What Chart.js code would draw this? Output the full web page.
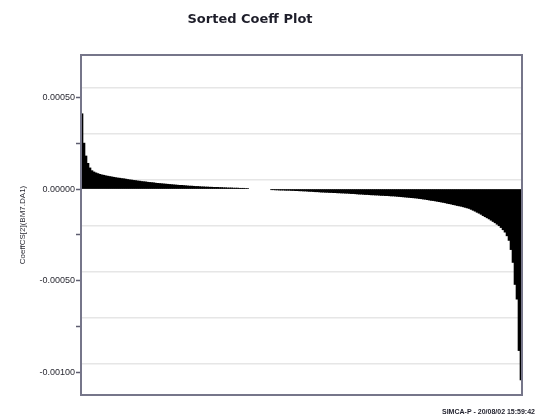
<!DOCTYPE html>
<html>
<head>
<meta charset="utf-8">
<script src="https://cdn.jsdelivr.net/npm/chart.js@4.4.1/dist/chart.umd.min.js"></script>
<style>
    html, body { margin: 0; padding: 0; background: #ffffff; }
    #wrap { width: 557px; height: 416px; position: relative; }
</style>
</head>
<body>
<div id="wrap"><canvas id="coeff"></canvas></div>
<script>
/*
        Sorted coefficient plot, CoeffCS[2](BM7.DA1), drawn as a bar per variable.
*/

const positiveCoeffs = [
    0.00041, 0.00025, 0.00018, 0.00014, 0.000115, 0.0001, 0.000093, 0.000088, 0.000084, 0.00008,
    0.000077, 0.000075, 0.000072, 0.00007, 0.000068, 0.000066, 0.000064, 0.000062, 0.00006, 0.000059,
    0.000057, 0.000056, 0.000054, 0.000052, 0.00005, 0.000049, 0.000047, 0.000046, 0.000044, 0.000043,
    0.000041, 0.00004, 0.000039, 0.000037, 0.000036, 0.000035, 0.000034, 0.000032, 0.000031, 0.00003,
    0.000029, 0.000028, 0.000027, 0.000026, 0.000025, 0.000024, 0.000023, 0.000022, 0.000021, 0.00002,
    0.00002, 0.000019, 0.000018, 0.000017, 0.000016, 0.000016, 0.000015, 0.000014, 0.000014, 0.000013,
    0.000012, 0.000012, 0.000011, 0.000011, 0.00001, 0.00001, 0.000009, 0.000009, 0.000009, 0.000008,
    0.000008, 0.000007, 0.000007, 0.000006, 0.000006, 0.000006, 0.000005, 0.000005, 0.000005, 0.000004,
    0.000004, 0.000004, 0.000003, 0.000003
];

// variables too close to zero to show in the plot
const hiddenCoeffs = [null, null, null, null, null, null, null, null, null, null, null];

const negativeCoeffs = [
    -0.000004, -0.000004, -0.000005, -0.000005, -0.000006, -0.000006, -0.000006, -0.000007, -0.000007, -0.000007,
    -0.000008, -0.000008, -0.000009, -0.000009, -0.00001, -0.00001, -0.000011, -0.000011, -0.000012, -0.000013,
    -0.000013, -0.000014, -0.000015, -0.000015, -0.000016, -0.000017, -0.000017, -0.000018, -0.000018, -0.000019,
    -0.000019, -0.00002, -0.00002, -0.000021, -0.000021, -0.000022, -0.000022, -0.000023, -0.000023, -0.000024,
    -0.000025, -0.000025, -0.000026, -0.000027, -0.000028, -0.000028, -0.000029, -0.00003, -0.00003, -0.000031,
    -0.000032, -0.000032, -0.000033, -0.000033, -0.000034, -0.000035, -0.000035, -0.000036, -0.000036, -0.000037,
    -0.000038, -0.000038, -0.000039, -0.00004, -0.000041, -0.000042, -0.000043, -0.000044, -0.000045, -0.000046,
    -0.000047, -0.000048, -0.000049, -0.00005, -0.000052, -0.000053, -0.000055, -0.000056, -0.000058, -0.00006,
    -0.000062, -0.000063, -0.000065, -0.000067, -0.000069, -0.000071, -0.000073, -0.000075, -0.000078, -0.00008,
    -0.000082, -0.000085, -0.000087, -0.00009, -0.000092, -0.000094, -0.000097, -0.0001, -0.000103, -0.000106,
    -0.000111, -0.000116, -0.000121, -0.000127, -0.000132, -0.000138, -0.000145, -0.000151, -0.000157, -0.000163,
    -0.00017, -0.000177, -0.000184, -0.000192, -0.0002, -0.00021, -0.000222, -0.000235, -0.000255, -0.00028,
    -0.00033, -0.0004, -0.00052, -0.0006, -0.00088, -0.00104
];

const coeffValues = positiveCoeffs.concat(hiddenCoeffs, negativeCoeffs);
const varIndex = coeffValues.map((v, i) => i + 1);

const yMin = -0.001122;
const yMax = 0.00073;
const yTickStep = 0.00025;   // minor tick marks, labels every second one
const yLabelStep = 0.0005;
const gridValues = [0.00055, 0.0003, 0.00005, -0.0002, -0.00045, -0.0007, -0.00095];

const titleText = "Sorted Coeff Plot";
const yAxisText = "CoeffCS[2](BM7.DA1)";
const footerText = "SIMCA-P - 20/08/02 15:59:42";

// Frame, title and footer stamp
const framePlugin = {
    id: "frame",
    afterDraw(chart) {
        const ctx = chart.ctx;
        const a = chart.chartArea;

        ctx.save();
        ctx.strokeStyle = "#76768a";
        ctx.lineWidth = 2;
        ctx.strokeRect(a.left, a.top, a.right - a.left, a.bottom - a.top);

        ctx.fillStyle = "#1e1e2a";
        ctx.font = "bold 13px 'DejaVu Sans'";
        ctx.textAlign = "center";
        ctx.textBaseline = "middle";
        ctx.fillText(titleText, 250, 20);

        ctx.font = "bold 7px 'Liberation Sans'";
        ctx.textAlign = "left";
        ctx.fillText(footerText, 442, 412);
        ctx.restore();
    }
};

const ctx = document.getElementById("coeff").getContext("2d");

new Chart(ctx, {
    type: "bar",
    plugins: [framePlugin],
    data: {
        labels: varIndex,
        datasets: [
            {
                data: coeffValues,
                backgroundColor: "#000000",
                borderWidth: 0,
                barPercentage: 1,
                categoryPercentage: 1,
            },
        ],
    },
    options: {
        responsive: true,
        maintainAspectRatio: false,
        animation: false,
        layout: { padding: { left: 0, right: 35, top: 55, bottom: 21 } },
        plugins: {
            legend: { display: false },
            tooltip: { enabled: false },
        },
        scales: {
            x: { display: false },
            y: {
                position: "left",
                min: yMin,
                max: yMax,
                afterFit: (scale) => { scale.width = 81; },
                border: { display: false },
                grid: {
                    drawOnChartArea: false,
                    drawTicks: true,
                    tickLength: 5,
                    tickColor: "#5e5e70",
                    tickWidth: 1.5,
                },
                ticks: {
                    stepSize: yTickStep,
                    includeBounds: false,
                    padding: 1,
                    color: "#2a2a33",
                    font: { family: "'Liberation Sans'", size: 9 },
                    callback: (v) => {
                        const r = v / yLabelStep;
                        return Math.abs(r - Math.round(r)) < 1e-6 ? v.toFixed(5) : "";
                    },
                },
                title: {
                    display: true,
                    text: yAxisText,
                    color: "#2a2a33",
                    font: { family: "'Liberation Sans'", size: 8 },
                    padding: { top: 18, bottom: 0 },
                },
            },
            yg: {
                position: "left",
                min: yMin,
                max: yMax,
                afterFit: (scale) => { scale.width = 0; },
                afterBuildTicks: (scale) => {
                    scale.ticks = gridValues.map((v) => ({ value: v }));
                },
                border: { display: false },
                grid: { color: "#e6e6e6", lineWidth: 1.5, drawTicks: false },
                ticks: { display: false },
            },
        },
    },
});
</script>
</body>
</html>
